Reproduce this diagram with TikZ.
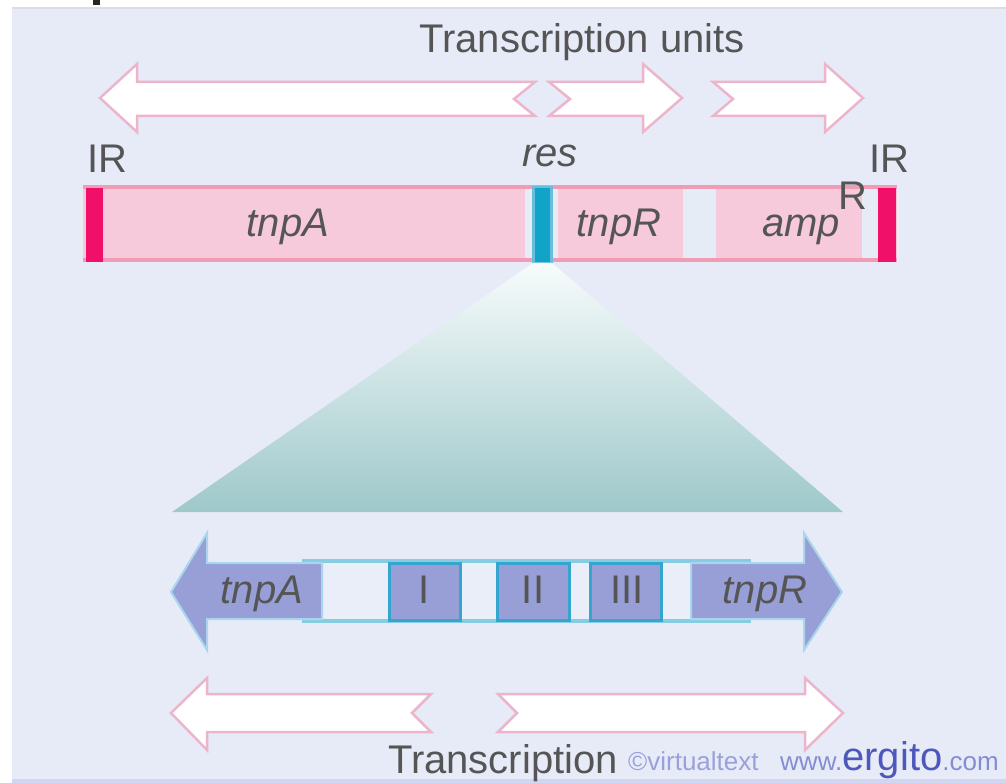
\documentclass[tikz,border=0pt]{standalone}
\usepackage{fontspec}
\setmainfont{Liberation Sans}

\definecolor{bgpanel}{HTML}{E7EBF8}
\definecolor{panelTop}{HTML}{DCDDE4}
\definecolor{panelBot}{HTML}{D2D6F0}
\definecolor{genefill}{HTML}{F6CADB}
\definecolor{geneline}{HTML}{F29BB5}
\definecolor{gapfill}{HTML}{E6ECF6}
\definecolor{irred}{HTML}{F0106A}
\definecolor{resblue}{HTML}{12A3C8}
\definecolor{resedge}{HTML}{66BEDA}
\definecolor{arrpink}{HTML}{EDB5CB}
\definecolor{bluefill}{HTML}{979FD6}
\definecolor{blueedge}{HTML}{A9D6EC}
\definecolor{boxedge}{HTML}{35A4CF}
\definecolor{siteedge}{HTML}{86CCE2}
\definecolor{sitefill}{HTML}{E9EEF9}
\definecolor{tritop}{HTML}{F7FBFB}
\definecolor{tribot}{HTML}{9EC8CA}
\definecolor{txtgrey}{HTML}{555555}
\definecolor{credlight}{HTML}{9AA1DA}
\definecolor{credmid}{HTML}{858DD2}
\definecolor{creddark}{HTML}{4E58BA}

\tikzset{
  lbl/.style={inner sep=0pt, text=txtgrey, font=\fontsize{40}{48}\selectfont, anchor=base},
  lbli/.style={lbl, font=\fontsize{40}{48}\selectfont\itshape},
  outarrow/.style={fill=white, draw=arrpink, line width=2.5pt, line join=miter},
  bluearrow/.style={fill=bluefill, draw=blueedge, line width=2pt, line join=miter},
  sitebox/.style={fill=bluefill, draw=boxedge, line width=3pt},
}

\begin{document}
\begin{tikzpicture}[x=1pt, y=-1pt]
\useasboundingbox (0,0) rectangle (1006,783);

% panel
\fill[bgpanel] (12,7) rectangle (1006,783);
\fill[panelTop] (12,7) rectangle (1006,9);
\fill[panelBot] (12,779) rectangle (1006,783);
\fill[black!85] (93,0) rectangle (100,5);

% heading
\node[lbl] (units) at (582,53) {Transcription units};

% transcription units above the map
\draw[outarrow] (100,98) -- (137,64) -- (137,82) -- (535,82) -- (514,99)
  -- (535,116) -- (137,116) -- (137,132) -- cycle;
\draw[outarrow] (549,82) -- (643,82) -- (643,64) -- (682,98) -- (643,132)
  -- (643,116) -- (549,116) -- (570,99) -- cycle;
\draw[outarrow] (713,82) -- (825,82) -- (825,64) -- (863,98) -- (825,132)
  -- (825,116) -- (713,116) -- (733,99) -- cycle;

% transposon map
\fill[genefill] (83,185) rectangle (897,262);
\fill[gapfill] (525,189) rectangle (558,258);
\fill[gapfill] (683,189) rectangle (716,258);
\fill[gapfill] (862,189) rectangle (878,258);
\fill[geneline] (83,185) rectangle (897,189);
\fill[geneline] (83,258) rectangle (897,262);
\fill[irred] (86,188) rectangle (103,262);
\fill[irred] (878,188) rectangle (896,262);
\fill[resedge] (532,186) rectangle (553,263);
\fill[resblue] (535,188) rectangle (550,262);

\node[lbl]  (irL)  at (107,173) {IR};
\node[lbli] (res)  at (550,167) {res};
\node[lbl]  (irR)  at (889,173) {IR};
\node[lbli] (tnpA) at (288,237) {tnpA};
\node[lbli] (tnpR) at (619,237) {tnpR};
\node[lbli] (amp)  at (801,237) {amp};
\node[lbl]  (ampR) at (853,210) {R};

% expansion of res
\shade[top color=tritop, bottom color=tribot]
  (533,263) -- (552,263) -- (843,512) -- (172,512) -- cycle;

% res site
\draw[siteedge, line width=3.5pt, fill=sitefill] (304,561) rectangle (749,621);
\draw[bluearrow] (171,592) -- (207,533) -- (207,563) -- (322,563) -- (322,619)
  -- (207,619) -- (207,650) -- cycle;
\draw[bluearrow] (842,592) -- (804,533) -- (804,563) -- (691,563) -- (691,619)
  -- (804,619) -- (804,650) -- cycle;
\draw[sitebox] (389,563) rectangle (460,620);
\draw[sitebox] (497,563) rectangle (569,620);
\draw[sitebox] (590,563) rectangle (661,620);

\node[lbli] (tnpAb) at (262,603) {tnpA};
\node[lbl]  (siteI)   at (424,603) {I};
\node[lbl]  (siteII)  at (533,603) {II};
\node[lbl]  (siteIII) at (627,603) {III};
\node[lbli] (tnpRb) at (765,603) {tnpR};

% transcripts below
\draw[outarrow] (171,713) -- (207,678) -- (207,694) -- (431,694) -- (412,713)
  -- (431,732) -- (207,732) -- (207,750) -- cycle;
\draw[outarrow] (498,694) -- (805,694) -- (805,678) -- (843,713) -- (805,750)
  -- (805,732) -- (498,732) -- (517,713) -- cycle;

\node[lbl, anchor=base west] (transcr) at (388,773) {Transcription};
\node[inner sep=0pt, anchor=base west, text=credlight,
  font=\fontsize{26}{30}\selectfont] (copy) at (628,770) {\textcopyright virtualtext};
\node[inner sep=0pt, anchor=base west, text=credmid,
  font=\fontsize{26}{30}\selectfont] (web) at (780,770)
  {www.{\color{creddark}\fontsize{40}{44}\selectfont ergito}.com};
\end{tikzpicture}
\end{document}
